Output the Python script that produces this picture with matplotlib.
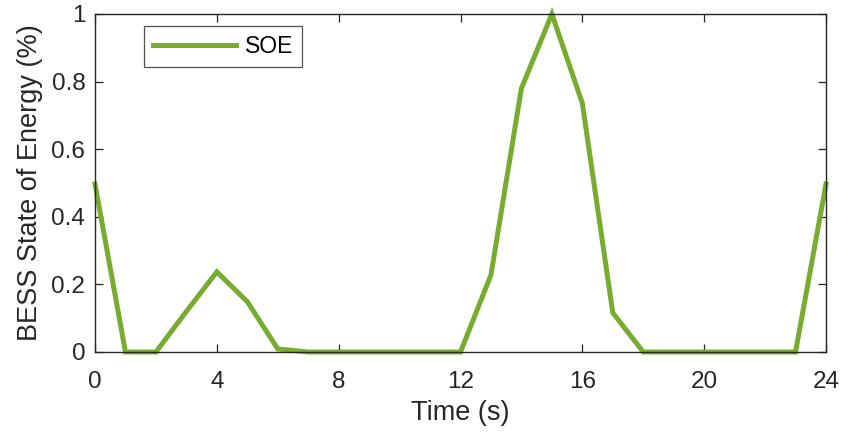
import matplotlib
matplotlib.use("Agg")
import matplotlib.pyplot as plt

# hourly state of energy
time_s = [0, 1, 2, 3, 4, 5, 6, 7, 8, 9, 10, 11, 12,
          13, 14, 15, 16, 17, 18, 19, 20, 21, 22, 23, 24]
soe = [0.497, 0, 0, 0.12, 0.237, 0.149, 0.009, 0, 0, 0, 0, 0, 0,
       0.228, 0.78, 1.0, 0.736, 0.116, 0, 0, 0, 0, 0, 0, 0.497]
xticks = [0, 4, 8, 12, 16, 20, 24]
yticks = [0, 0.2, 0.4, 0.6, 0.8, 1]
ytick_labels = ["0", "0.2", "0.4", "0.6", "0.8", "1"]

plt.rcParams['font.family'] = ['Liberation Sans', 'DejaVu Sans']
ink = '#262626'

fig = plt.figure(figsize=(8.55, 4.33), dpi=100)
ax = fig.add_axes([95/855, 1 - 352/433, (826 - 95)/855, (352 - 14)/433])

ax.plot(time_s, soe, color='#77AC30', linewidth=3.6, label='SOE',
        solid_joinstyle='miter', clip_on=False)

ax.set_xlim(0, 24)
ax.set_ylim(0, 1)
ax.set_xticks(xticks)
ax.set_yticks(yticks)
ax.set_yticklabels(ytick_labels)
ax.tick_params(direction='in', top=True, right=True, length=5.5, width=0.9,
               colors=ink, labelsize=17.5)
ax.tick_params(axis='x', pad=14)
ax.tick_params(axis='y', pad=7)
for s in ax.spines.values():
    s.set_color(ink)
    s.set_linewidth(1.0)

ax.set_xlabel('Time (s)', fontsize=19.5, color=ink, labelpad=5)
ax.set_ylabel('BESS State of Energy (%)', fontsize=19.5, color=ink, labelpad=6)

leg = ax.legend(loc='upper left', bbox_to_anchor=(0.067, 0.965), fontsize=16.5,
                fancybox=False, edgecolor=ink, handlelength=3.6,
                borderpad=0.4, handletextpad=0.4, borderaxespad=0)
leg.get_frame().set_linewidth(0.9)
for t in leg.get_texts():
    t.set_color('black')

fig.savefig('out.png', dpi=100)
